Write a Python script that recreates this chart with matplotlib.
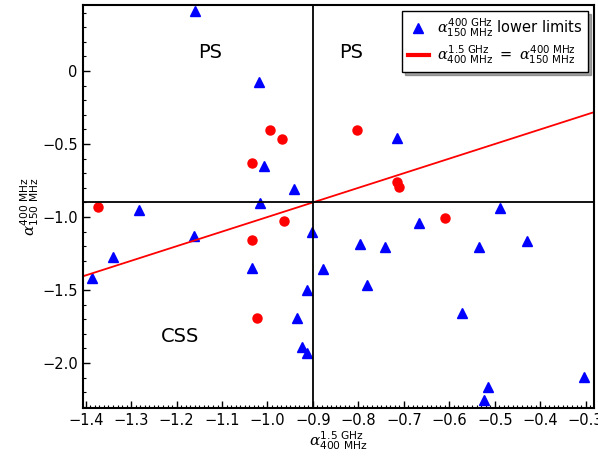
import numpy as np
import matplotlib
matplotlib.use("Agg")
import matplotlib.pyplot as plt
from matplotlib.ticker import MultipleLocator, FuncFormatter

plt.rcParams['font.family'] = 'DejaVu Sans'
plt.rcParams['mathtext.fontset'] = 'custom'
plt.rcParams['mathtext.rm'] = 'DejaVu Sans'
plt.rcParams['mathtext.it'] = 'DejaVu Serif:italic'

# lower limits on the 150-400 MHz index (triangles)
lim_x = [-1.160, -1.019, -1.008, -0.942, -1.016, -1.283, -1.162, -1.341,
         -1.386, -1.035, -0.901, -0.878, -0.913, -0.935, -0.923, -0.914,
         -0.714, -0.488, -0.667, -0.796, -0.741, -0.535, -0.430, -0.780,
         -0.573, -0.515, -0.524, -0.303]
lim_y = [0.41, -0.073, -0.649, -0.810, -0.906, -0.952, -1.128, -1.276,
         -1.420, -1.347, -1.100, -1.358, -1.500, -1.694, -1.890, -1.934,
         -0.457, -0.940, -1.039, -1.185, -1.203, -1.203, -1.164, -1.468,
         -1.655, -2.167, -2.253, -2.098]

# detected sources (circles)
det_x = [-0.995, -0.969, -1.035, -1.374, -0.964, -0.804, -1.034, -1.022,
         -0.715, -0.711, -0.609]
det_y = [-0.404, -0.463, -0.628, -0.934, -1.025, -0.404, -1.155, -1.692,
         -0.758, -0.797, -1.005]

x_range = [-1.407, -0.282]
y_range = [-2.308, 0.452]
split = -0.9

a_low = r'\alpha^{\mathrm{400\ MHz}}_{\mathrm{150\ MHz}}'
a_high = r'\alpha^{\mathrm{1.5\ GHz}}_{\mathrm{400\ MHz}}'
a_lim = r'\alpha^{\mathrm{400\ GHz}}_{\mathrm{150\ MHz}}'

fig = plt.figure(figsize=(5.98, 4.63), dpi=100)
ax = fig.add_axes([0.138, 0.119, 0.855, 0.870])

ax.plot(lim_x, lim_y, 'b^', ms=6.5, mec='b', label='$' + a_lim + '$ lower limits')
xx = np.array(x_range)
ax.plot(xx, xx, 'r-', lw=1.3, label='$' + a_high + r'\ =\ ' + a_low + '$')
ax.plot(det_x, det_y, 'o', color='r', mec='r', ms=6.5)

ax.axhline(split, color='k', lw=1.3)
ax.axvline(split, color='k', lw=1.3)

ax.text(-1.127, 0.13, 'PS', fontsize=14, ha='center', va='center')
ax.text(-0.815, 0.13, 'PS', fontsize=14, ha='center', va='center')
ax.text(-1.193, -1.822, 'CSS', fontsize=14, ha='center', va='center')

ax.set_xlim(x_range)
ax.set_ylim(y_range)
ax.xaxis.set_major_locator(MultipleLocator(0.1))
ax.xaxis.set_minor_locator(MultipleLocator(0.01))
ax.yaxis.set_major_locator(MultipleLocator(0.5))
ax.yaxis.set_minor_locator(MultipleLocator(0.1))


def fmt(v, pos):
    if abs(v) < 1e-9:
        return '0'
    return ('%.1f' % v).replace('-', '\u2212')


ax.xaxis.set_major_formatter(FuncFormatter(fmt))
ax.yaxis.set_major_formatter(FuncFormatter(fmt))
ax.tick_params(which='both', direction='in', labelsize=10.5)
ax.tick_params(which='major', length=5, width=1)
ax.tick_params(which='minor', length=2.5, width=0.8)
for s in ax.spines.values():
    s.set_linewidth(1.5)

ax.set_xlabel('$' + a_high + '$', fontsize=11, labelpad=1)
ax.set_ylabel('$' + a_low + '$', fontsize=11, labelpad=1)

leg = ax.legend(loc='upper right', fontsize=10.5, fancybox=False, shadow=True,
                numpoints=1, handlelength=1.5, handletextpad=0.5,
                borderaxespad=0.4, labelspacing=0.3)
leg.get_frame().set_edgecolor('k')
leg.get_lines()[1].set_linewidth(3)

fig.savefig('out.png', dpi=100)
